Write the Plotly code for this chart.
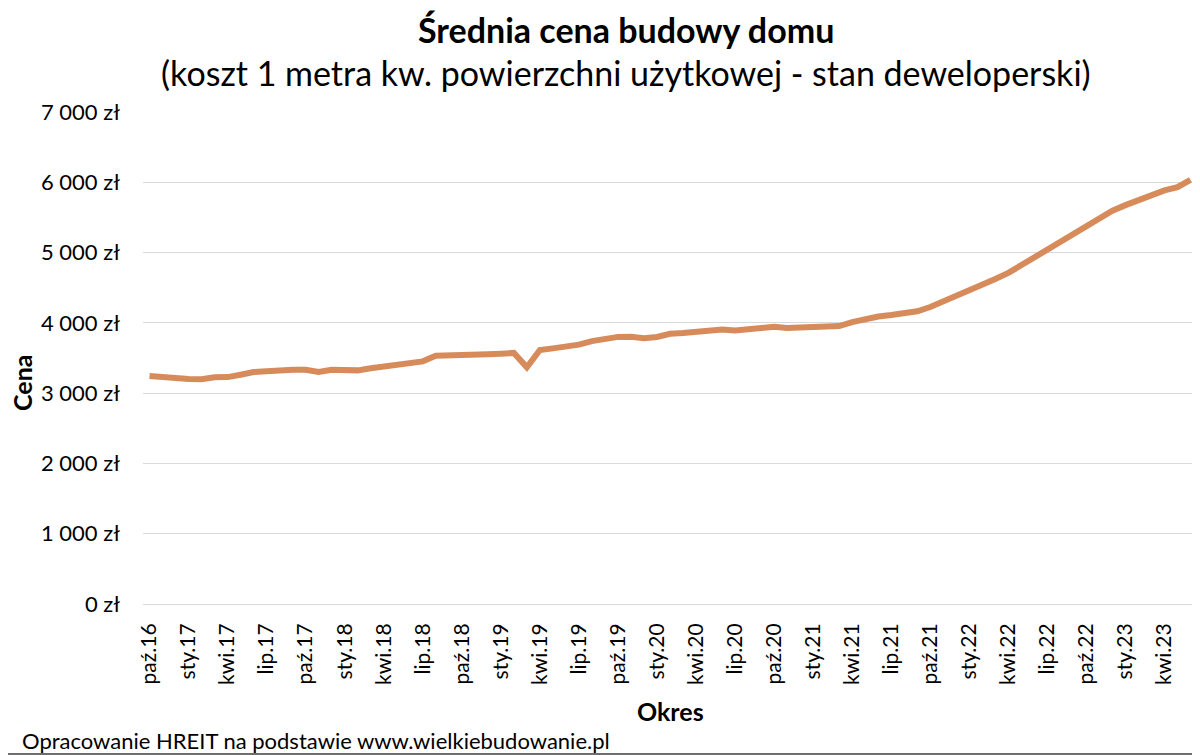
import plotly.graph_objects as go

# miesiace od paz.16 do cze.23
months = ["sty", "lut", "mar", "kwi", "maj", "cze", "lip", "sie", "wrz", "paź", "lis", "gru"]
periods = []
m, y = 9, 16
for _ in range(81):
    periods.append(f"{months[m]}.{y}")
    m += 1
    if m == 12:
        m, y = 0, y + 1

prices = [
    3245, 3240, 3215, 3200, 3198, 3225, 3228, 3262, 3300, 3310,
    3328, 3333, 3333, 3300, 3333, 3330, 3324, 3353, 3376, 3410,
    3428, 3452, 3532, 3532, 3550, 3552, 3552, 3560, 3572, 3367,
    3613, 3637, 3660, 3690, 3740, 3775, 3800, 3802, 3782, 3800,
    3845, 3855, 3865, 3895, 3905, 3890, 3905, 3925, 3945, 3928,
    3932, 3940, 3936, 3955, 4010, 4060, 4090, 4112, 4130, 4165,
    4225, 4305, 4365, 4445, 4540, 4625, 4710, 4820, 4930, 5040,
    5138, 5255, 5380, 5490, 5595, 5675, 5750, 5820, 5885, 5930,
    6035,
]

y_ticks = [0, 1000, 2000, 3000, 4000, 5000, 6000, 7000]
y_labels = [f"{v:,}".replace(",", " ") + " zł" for v in y_ticks]

FONT = "Lato"

# strona ma 8px marginesu body, wiec figura jest o 8px mniejsza
PL, PR, PT, PB = 143, 1197, 112, 604   # obszar wykresu w pikselach strony


def px(x):
    return (x - PL) / (PR - PL)


def py(y):
    return (PB - y) / (PB - PT)


fig = go.Figure()
fig.add_trace(go.Scatter(
    x=periods, y=prices, mode="lines",
    line=dict(color="#D78B5A", width=6),
    hoverinfo="x+y",
))

fig.update_layout(
    width=1192, height=747,
    paper_bgcolor="white", plot_bgcolor="white",
    margin=dict(l=PL - 8, r=1200 - PR, t=PT - 8, b=755 - PB),
    showlegend=False,
    font=dict(family=FONT, color="#000000"),
    annotations=[
        dict(text="<b>Średnia cena budowy domu</b>", x=px(626), y=py(29),
             font=dict(size=34)),
        dict(text="(koszt 1 metra kw. powierzchni użytkowej - stan deweloperski)",
             x=px(626), y=py(73), font=dict(size=34)),
        dict(text="<b>Okres</b>", x=px(670), y=py(711), font=dict(size=25)),
        dict(text="<b>Cena</b>", x=px(22), y=py(383), textangle=-90, font=dict(size=25)),
    ],
    shapes=[
        dict(type="line", xref="paper", yref="paper", x0=px(0), x1=px(1200),
             y0=py(754), y1=py(754), line=dict(color="#6E6E6E", width=2)),
    ],
)
fig.update_annotations(xref="paper", yref="paper", showarrow=False,
                       xanchor="center", yanchor="middle")
fig.add_annotation(text="Opracowanie HREIT na podstawie www.wielkiebudowanie.pl",
                   x=px(20), y=py(740), xref="paper", yref="paper", showarrow=False,
                   xanchor="left", yanchor="middle", font=dict(size=22))

fig.update_xaxes(
    type="category", range=[-0.5, 80.5], automargin=False,
    tickmode="array", tickvals=periods[::3], ticktext=periods[::3],
    tickangle=-90, tickfont=dict(size=21), ticklabelstandoff=10,
    showgrid=False, showline=True, linecolor="#D9D9D9", linewidth=1,
    ticks="", zeroline=False,
)
fig.update_yaxes(
    range=[0, 7000], automargin=False,
    tickmode="array", tickvals=y_ticks, ticktext=y_labels,
    tickfont=dict(size=22), ticklabelstandoff=22,
    showgrid=True, gridcolor="#D9D9D9", gridwidth=1, zeroline=False,
    showline=False, ticks="",
)

fig.write_html("out.html")
